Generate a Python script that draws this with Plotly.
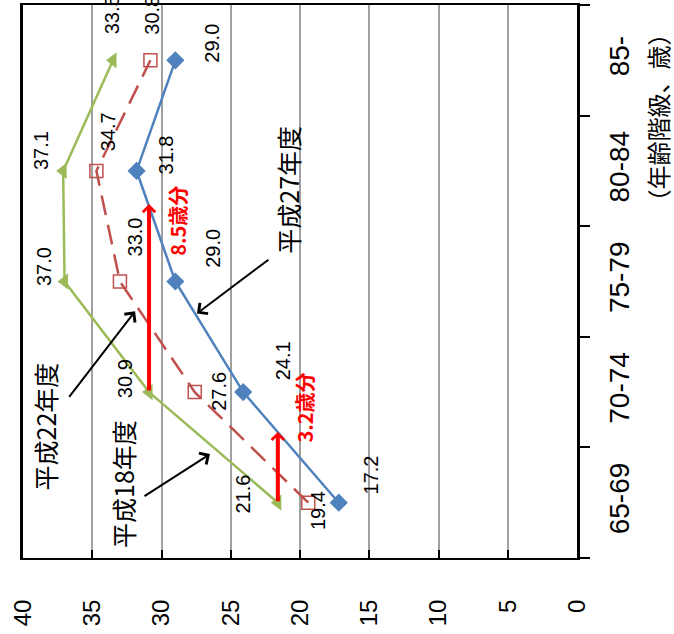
import plotly.graph_objects as go

# Age groups (category axis) and average values per survey year
age_groups = ["65-69", "70-74", "75-79", "80-84", "85-"]
h18_values = [21.6, 30.9, 37.0, 37.1, 33.5]   # 平成18年度
h22_values = [19.4, 27.6, 33.0, 34.7, 30.8]   # 平成22年度
h27_values = [17.2, 24.1, 29.0, 31.8, 29.0]   # 平成27年度

value_ticks = [0, 5, 10, 15, 20, 25, 30, 35, 40]

# age shift (years) shown by the red arrows, starting from the 平成18年度 line
shift_from_70 = 8.5
shift_from_65 = 3.2

BLUE = "#4F81BD"
RED = "#C0504D"
GREEN = "#9BBB59"
NUM_FONT = "Liberation Sans, Arial, sans-serif"
JP_FONT = "Noto Sans CJK JP, sans-serif"

fig = go.Figure()

fig.add_trace(go.Scatter(
    x=h18_values, y=age_groups, mode="lines+markers",
    line=dict(color=GREEN, width=2.5),
    marker=dict(symbol="triangle-left", size=14, color=GREEN),
    hoverinfo="skip",
))
fig.add_trace(go.Scatter(
    x=h22_values, y=age_groups, mode="lines+markers",
    line=dict(color=RED, width=2.5, dash="20px,10px"),
    marker=dict(symbol="square-open", size=13, color=RED, line=dict(width=1.5, color=RED)),
    hoverinfo="skip",
))
fig.add_trace(go.Scatter(
    x=h27_values, y=age_groups, mode="lines+markers",
    line=dict(color=BLUE, width=2.5),
    marker=dict(symbol="diamond", size=14, color=BLUE),
    hoverinfo="skip",
))

annotations = []

# value labels next to each point (pixel offsets per point)
label_offsets = {
    "h18": [(-35, 9), (-24, 13), (-21, 15), (-22, 20), (-1, 45)],
    "h22": [(9, -8), (24, 1), (15, 45), (11, 39), (2, 45)],
    "h27": [(32, 28), (40, 31), (37, 33), (29, 16), (37, 17)],
}
for key, vals in (("h18", h18_values), ("h22", h22_values), ("h27", h27_values)):
    for i, v in enumerate(vals):
        dx, dy = label_offsets[key][i]
        annotations.append(dict(
            x=v, y=i, xref="x", yref="y", text=f"{v:.1f}", showarrow=False,
            textangle=-90, xshift=dx, yshift=dy,
            font=dict(family=NUM_FONT, size=20, color="#000000"),
        ))

# red arrows marking the age shift
for start_idx, shift, label_pos in ((1, shift_from_70, (28.8, 2.55)), (0, shift_from_65, (19.64, 0.86))):
    base = h18_values[start_idx]
    annotations.append(dict(
        x=base, y=start_idx + shift / 5, xref="x", yref="y",
        ax=base, ay=start_idx, axref="x", ayref="y",
        text="", showarrow=True, arrowhead=4, arrowsize=0.6, arrowwidth=4,
        arrowcolor="#FF0000", standoff=0, startstandoff=0,
    ))
    annotations.append(dict(
        x=label_pos[0], y=label_pos[1], xref="x", yref="y",
        text=f"<b>{shift}歳分</b>", showarrow=False, textangle=-90,
        font=dict(family=JP_FONT, size=20, color="#FF0000"),
    ))

# series name callouts with black arrows
callouts = [
    ("平成27年度", (20.87, 2.83), (27.44, 1.71), (73, -55)),
    ("平成22年度", (38.41, 0.69), (31.91, 1.73), (-67, 87)),
    ("平成18年度", (32.78, 0.17), (26.5, 0.44), (-67, 43)),
]
for text, tpos, head, tail in callouts:
    annotations.append(dict(
        x=tpos[0], y=tpos[1], xref="x", yref="y", text=text, showarrow=False,
        textangle=-90, font=dict(family=JP_FONT, size=25, color="#000000"),
    ))
    annotations.append(dict(
        x=head[0], y=head[1], xref="x", yref="y", ax=tail[0], ay=tail[1],
        text="", showarrow=True, arrowhead=4, arrowsize=1.3, arrowwidth=2,
        arrowcolor="#000000", standoff=0,
    ))

# category axis title
annotations.append(dict(
    x=1.145, y=0.797, xref="paper", yref="paper", xanchor="center", yanchor="middle",
    text="（年齢階級、歳）", showarrow=False, textangle=-90,
    font=dict(family=JP_FONT, size=24, color="#000000"),
))

fig.update_layout(
    width=674, height=634,
    margin=dict(l=23, r=97, t=3, b=76),
    paper_bgcolor="white", plot_bgcolor="white",
    showlegend=False,
    annotations=annotations,
    xaxis=dict(
        range=[40, 0], tickvals=value_ticks, tickangle=-90,
        showgrid=True, gridcolor="#A0A0A0", gridwidth=1.5, zeroline=False,
        showline=True, linecolor="#000000", linewidth=2, mirror=True,
        ticks="inside", ticklen=8, tickwidth=1.5, tickcolor="#000000",
        tickfont=dict(family=NUM_FONT, size=24, color="#000000"),
        ticklabelstandoff=30,
    ),
    yaxis=dict(
        type="category", categoryorder="array", categoryarray=age_groups,
        range=[-0.5, 4.5], side="right", tickangle=-90,
        showgrid=False, zeroline=False,
        showline=True, linecolor="#000000", linewidth=2.5, mirror=True,
        ticks="outside", tickson="boundaries", ticklen=10, tickwidth=2, tickcolor="#000000",
        tickfont=dict(family=NUM_FONT, size=28, color="#000000"),
        ticklabelstandoff=16,
    ),
)

fig.write_html("out.html")
